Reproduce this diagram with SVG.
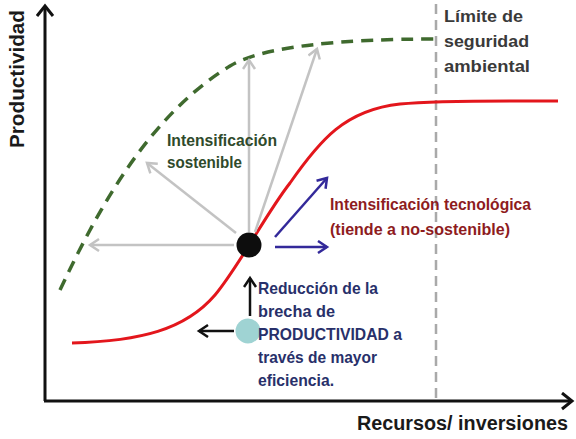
<svg xmlns="http://www.w3.org/2000/svg" width="576" height="439" viewBox="0 0 576 439">
<style>
text{font-family:"Liberation Sans Narrow","Liberation Sans",Arial,sans-serif;font-weight:bold}
.lbl{font-size:16.5px}
.axis{fill:none;stroke:#111;stroke-width:3}
.gray{fill:none;stroke:#c3c3c3;stroke-width:2.5}
.blue{fill:none;stroke:#33299a;stroke-width:2.5}
.blk{fill:none;stroke:#111;stroke-width:2.5}
</style>
<defs>
<marker id="mAxis" markerUnits="userSpaceOnUse" markerWidth="16" markerHeight="20" refX="11" refY="9" orient="auto">
<path d="M1,1 L11,9 L1,17" fill="none" stroke="#111" stroke-width="3"/>
</marker>
<marker id="mGray" markerUnits="userSpaceOnUse" markerWidth="14" markerHeight="16" refX="10" refY="7" orient="auto">
<path d="M1,1 L10,7 L1,13" fill="none" stroke="#c3c3c3" stroke-width="2.5"/>
</marker>
<marker id="mBlue" markerUnits="userSpaceOnUse" markerWidth="14" markerHeight="16" refX="10" refY="7" orient="auto">
<path d="M1,1 L10,7 L1,13" fill="none" stroke="#33299a" stroke-width="2.5"/>
</marker>
<marker id="mBlk" markerUnits="userSpaceOnUse" markerWidth="14" markerHeight="16" refX="10" refY="7" orient="auto">
<path d="M1,1 L10,7 L1,13" fill="none" stroke="#111" stroke-width="2.5"/>
</marker>
</defs>
<rect width="576" height="439" fill="#fff"/>

<g id="axes">
<line class="axis" x1="45" y1="401" x2="45" y2="6" marker-end="url(#mAxis)"/>
<line class="axis" x1="44" y1="401" x2="572" y2="401" marker-end="url(#mAxis)"/>
<text x="24" y="148" font-size="21" fill="#1a1a1a" transform="rotate(-90 24 148)" textLength="138" lengthAdjust="spacingAndGlyphs">Productividad</text>
<text x="357" y="430" font-size="19.5" fill="#1a1a1a" textLength="211" lengthAdjust="spacingAndGlyphs">Recursos/ inversiones</text>
</g>

<g id="limite">
<line x1="436" y1="4" x2="436" y2="398" stroke="#a9a9a9" stroke-width="2.5" stroke-dasharray="10 6"/>
<text class="lbl" fill="#3a3a3a"><tspan x="444" y="22" textLength="79" lengthAdjust="spacingAndGlyphs">Límite de</tspan><tspan x="444" y="47" textLength="85" lengthAdjust="spacingAndGlyphs">seguridad</tspan><tspan x="444" y="72" textLength="86" lengthAdjust="spacingAndGlyphs">ambiental</tspan></text>
</g>

<g id="curves">
<path d="M60,290 C100,205 150,115 230,66 C262,46.4 340,39 437,39" fill="none" stroke="#3f6a2e" stroke-width="3.5" stroke-dasharray="12 8"/>
<path d="M72,343 C140,341 185,330 215,295 C240,265 265,215 290,183 C320,140 345,110 400,104 C440,100 500,101 558,101" fill="none" stroke="#e3161c" stroke-width="3"/>
</g>

<g id="connectors">
<line class="gray" x1="234" y1="245" x2="90" y2="245" marker-end="url(#mGray)"/>
<line class="gray" x1="236" y1="233" x2="147" y2="163" marker-end="url(#mGray)"/>
<line class="gray" x1="249" y1="232" x2="249" y2="60" marker-end="url(#mGray)"/>
<line class="gray" x1="255" y1="232" x2="317" y2="49" marker-end="url(#mGray)"/>
<line class="blue" x1="275" y1="237" x2="327" y2="178" marker-end="url(#mBlue)"/>
<line class="blue" x1="275" y1="247" x2="327" y2="247" marker-end="url(#mBlue)"/>
<line class="blk" x1="250" y1="316" x2="250" y2="278" marker-end="url(#mBlk)"/>
<line class="blk" x1="234" y1="331" x2="199" y2="331" marker-end="url(#mBlk)"/>
</g>

<g id="punto-actual">
<circle cx="249" cy="245" r="12.5" fill="#0d0d0d"/>
</g>

<g id="punto-inicial">
<circle cx="248" cy="331" r="12.5" fill="#9fd3d3"/>
</g>

<g id="intensificacion-sostenible">
<text class="lbl" fill="#2f4a2b"><tspan x="167" y="146" textLength="110" lengthAdjust="spacingAndGlyphs">Intensificación</tspan><tspan x="167" y="168" textLength="75" lengthAdjust="spacingAndGlyphs">sostenible</tspan></text>
</g>

<g id="intensificacion-tecnologica">
<text class="lbl" fill="#8e1c1e"><tspan x="330" y="210" textLength="201" lengthAdjust="spacingAndGlyphs">Intensificación tecnológica</tspan><tspan x="330" y="235" textLength="180" lengthAdjust="spacingAndGlyphs">(tiende a no-sostenible)</tspan></text>
</g>

<g id="reduccion-brecha">
<text class="lbl" fill="#28306a"><tspan x="258" y="294" textLength="120" lengthAdjust="spacingAndGlyphs">Reducción de la</tspan><tspan x="258" y="317" textLength="77" lengthAdjust="spacingAndGlyphs">brecha de</tspan><tspan x="258" y="340" textLength="144" lengthAdjust="spacingAndGlyphs">PRODUCTIVIDAD a</tspan><tspan x="258" y="363" textLength="119" lengthAdjust="spacingAndGlyphs">través de mayor</tspan><tspan x="258" y="386" textLength="76" lengthAdjust="spacingAndGlyphs">eficiencia.</tspan></text>
</g>
</svg>
